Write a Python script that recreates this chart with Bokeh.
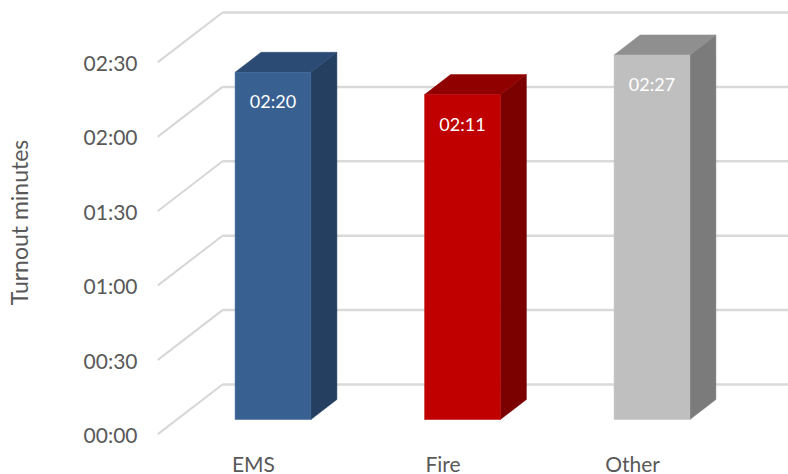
from bokeh.plotting import figure
from bokeh.models import Range1d, FixedTicker
from bokeh.embed import file_html
from bokeh.resources import INLINE
from bokeh.core.properties import value

# ---- data -------------------------------------------------------------
categories = ["EMS", "Fire", "Other"]
turnout_seconds = [140, 131, 147]
tick_seconds = [0, 30, 60, 90, 120, 150]
tick_labels = ["00:00", "00:30", "01:00", "01:30", "02:00", "02:30"]

front_colors = ["#386192", "#c00000", "#bfbfbf"]
top_colors = ["#2b4b74", "#900000", "#8f8f8f"]
side_colors = ["#243f60", "#7b0000", "#7b7b7b"]

# ---- oblique 3-D projection settings ---------------------------------
PX_X = 189.5            # screen pixels per category step
PX_Y = 2.48             # screen pixels per second
DEPTH_X = 65 / PX_X     # x shift of the full box depth (x units)
DEPTH_Y = 50 / PX_Y     # y shift of the full box depth (seconds)
BAR_HALF = 0.2          # half the bar width (x units)
BAR_D0, BAR_D1 = 0.3, 0.7   # front / back depth of each bar (0 = front, 1 = back wall)

FRAME_W, FRAME_H = 631, 444
x_start = -96 / PX_X
x_end = x_start + FRAME_W / PX_X
y_start = -10 / PX_Y
y_end = y_start + FRAME_H / PX_Y


def proj(x, y, d):
    """Project a point at depth d onto the picture plane."""
    return x + d * DEPTH_X, y + d * DEPTH_Y


def mmss(sec):
    return f"{int(sec) // 60:02d}:{int(sec) % 60:02d}"


p = figure(
    frame_width=FRAME_W, frame_height=FRAME_H,
    x_range=Range1d(x_start, x_end), y_range=Range1d(y_start, y_end),
    output_backend="svg", toolbar_location=None,
    min_border_left=157, min_border_right=0, min_border_top=0, min_border_bottom=30,
)
p.outline_line_color = None
p.grid.visible = False
p.background_fill_color = "white"
p.border_fill_color = "white"

FONT = "Lato"
TEXT_COLOR = "#595959"

# back wall gridlines
bx0, by0, bx1, by1 = [], [], [], []
for t in tick_seconds:
    xa, ya = proj(x_start, t, 1.0)
    bx0.append(xa); by0.append(ya); bx1.append(x_end); by1.append(ya)
p.segment(bx0, by0, bx1, by1, line_color="#d9d9d9", line_width=2.5)

# side wall gridlines (running from the front plane to the back wall)
sx0, sy0, sx1, sy1 = [], [], [], []
for t in tick_seconds:
    xa, ya = proj(x_start, t, 1.0)
    sx0.append(x_start); sy0.append(t); sx1.append(xa); sy1.append(ya)
p.segment(sx0, sy0, sx1, sy1, line_color="#d6d6d6", line_width=2)

# bars: side face, top face, front face
side_xs, side_ys, top_xs, top_ys = [], [], [], []
left, right, bottom, top = [], [], [], []
label_x, label_y, label_txt = [], [], []
for i, v in enumerate(turnout_seconds):
    xl, xr = i - BAR_HALF, i + BAR_HALF
    pts_side = [proj(xr, 0, BAR_D0), proj(xr, v, BAR_D0), proj(xr, v, BAR_D1), proj(xr, 0, BAR_D1)]
    pts_top = [proj(xl, v, BAR_D0), proj(xr, v, BAR_D0), proj(xr, v, BAR_D1), proj(xl, v, BAR_D1)]
    side_xs.append([q[0] for q in pts_side]); side_ys.append([q[1] for q in pts_side])
    top_xs.append([q[0] for q in pts_top]); top_ys.append([q[1] for q in pts_top])
    fl, fb = proj(xl, 0, BAR_D0)
    fr, ft = proj(xr, v, BAR_D0)
    left.append(fl); right.append(fr); bottom.append(fb); top.append(ft)
    label_x.append((fl + fr) / 2); label_y.append(ft); label_txt.append(mmss(v))

p.patches(side_xs, side_ys, fill_color=side_colors, line_color=side_colors, line_width=0.5)
p.patches(top_xs, top_ys, fill_color=top_colors, line_color=top_colors, line_width=0.5)
p.quad(left=left, right=right, bottom=bottom, top=top,
       fill_color=front_colors, line_color=front_colors, line_width=0.5)

p.text(x=label_x, y=label_y, text=label_txt, y_offset=29,
       text_color="white", text_font=value(FONT), text_font_size="18px",
       text_align="center", text_baseline="middle")

# axes
p.yaxis.ticker = FixedTicker(ticks=tick_seconds)
p.yaxis.major_label_overrides = {t: lab for t, lab in zip(tick_seconds, tick_labels)}
p.yaxis.axis_label = "Turnout minutes"
p.yaxis.axis_label_standoff = 48
p.yaxis.major_label_standoff = 20
p.yaxis.axis_label_text_font = FONT
p.yaxis.axis_label_text_font_size = "23px"
p.yaxis.axis_label_text_font_style = "normal"
p.yaxis.axis_label_text_color = TEXT_COLOR

p.xaxis.ticker = FixedTicker(ticks=list(range(len(categories))))
p.xaxis.major_label_overrides = {i: c for i, c in enumerate(categories)}
p.xaxis.major_label_standoff = 6

for ax in (p.xaxis, p.yaxis):
    ax.axis_line_color = None
    ax.major_tick_line_color = None
    ax.minor_tick_line_color = None
    ax.major_tick_out = 0
    ax.major_tick_in = 0
    ax.major_label_text_font = FONT
    ax.major_label_text_font_size = "21px"
    ax.major_label_text_color = TEXT_COLOR

open("out.html", "w").write(file_html(p, INLINE))
